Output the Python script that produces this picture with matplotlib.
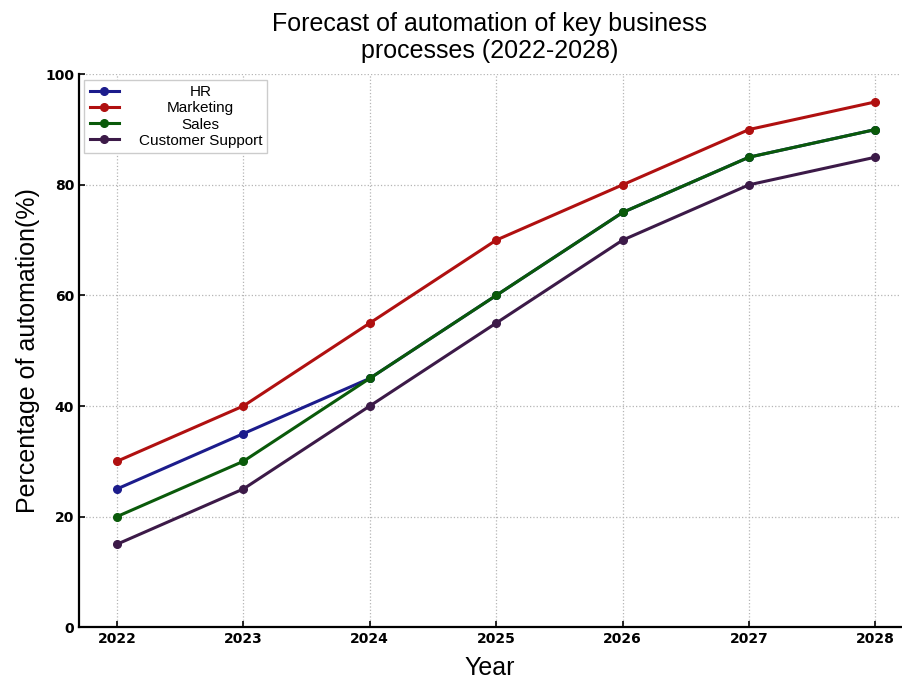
import matplotlib
matplotlib.use("Agg")
import matplotlib.pyplot as plt

years = [2022, 2023, 2024, 2025, 2026, 2027, 2028]
hr = [25, 35, 45, 60, 75, 85, 90]
marketing = [30, 40, 55, 70, 80, 90, 95]
sales = [20, 30, 45, 60, 75, 85, 90]
support = [15, 25, 40, 55, 70, 80, 85]

series = [
    ("HR", hr, "#1c1c8c"),
    ("Marketing", marketing, "#b01010"),
    ("Sales", sales, "#0a5a0a"),
    ("Customer Support", support, "#3c1a48"),
]

fig = plt.figure(figsize=(9.03, 6.81), dpi=100)
ax = fig.add_axes([0.0875, 0.079, 0.91, 0.812])

for name, vals, col in series:
    ax.plot(years, vals, color=col, lw=2.2, marker="o", ms=5.5, label=name)

ax.set_xlim(2021.7, 2028.2)
ax.set_ylim(0, 100)
ax.set_xticks(years)
ax.set_yticks([0, 20, 40, 60, 80, 100])
ax.grid(True, ls=":", color="#b5b5b5", lw=0.9)
for s in ["top", "right"]:
    ax.spines[s].set_visible(False)
for s in ["left", "bottom"]:
    ax.spines[s].set_linewidth(1.6)
ax.tick_params(labelsize=10, width=1.2, length=4, direction="in")
for lab in ax.get_xticklabels() + ax.get_yticklabels():
    lab.set_fontweight("bold")

ax.set_title("Forecast of automation of key business\nprocesses (2022-2028)",
             fontsize=18, family="Liberation Sans", linespacing=1.15, pad=12)
ax.set_xlabel("Year", fontsize=18, family="Liberation Sans", labelpad=7)
ax.set_ylabel("Percentage of automation(%)", fontsize=18, family="Liberation Sans", labelpad=4)

leg = ax.legend(loc="upper left", prop={"family": "Liberation Sans", "size": 11},
                handlelength=1.9, handletextpad=1.3, borderaxespad=0.35,
                borderpad=0.35, labelspacing=0.15, framealpha=1,
                fancybox=False, edgecolor="#cccccc")

# centre the labels within the legend column
renderer = fig.canvas.get_renderer()
texts = leg.get_texts()
widths = [t.get_window_extent(renderer).width for t in texts]
wmax = max(widths)
for t, w in zip(texts, widths):
    t.set_position(((wmax - w) / 2, 0))

fig.savefig("out.png", dpi=100)
